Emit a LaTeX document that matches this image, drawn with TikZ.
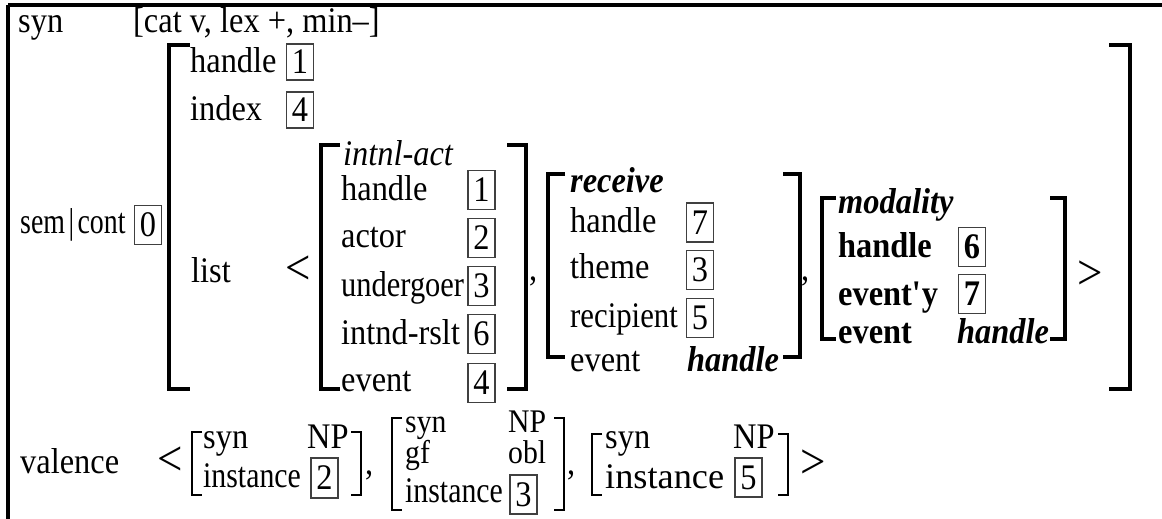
\documentclass[tikz,border=0pt]{standalone}
\usepackage{fontspec}
\setmainfont{Liberation Serif}[FakeStretch=0.9]
\newcommand{\fs}{\fontsize{36}{42}\selectfont}
\newcommand{\fssm}{\fontsize{33}{38}\selectfont}
\newcommand{\fsbig}{\fontsize{50}{54}\selectfont}
\tikzset{
  lbl/.style={anchor=base west, inner sep=0pt, font=\fs},
  tagbox/.style={draw=black!75, line width=1.1pt, minimum width=27pt, minimum height=39pt, inner sep=0pt, font=\fs},
  angle/.style={inner sep=0pt, font=\fsbig},
  brk/.style={line width=4.5pt, line join=miter},
  sbrk/.style={line width=1.8pt, line join=miter},
  frame/.style={line width=3.2pt},
}
\begin{document}
\begin{tikzpicture}[x=1pt, y=-1pt]
\useasboundingbox (0,0) rectangle (1162,519);
% frame
\draw[frame] (8,5) -- (1162,5);
\draw[frame] (8,5) -- (8,519);
% syn row
\node[lbl] (syn) at (18,33) {syn};
\node[lbl] (synv) at (133,33) {[cat v, lex +, min–]};
% sem|cont
\node[lbl] (semcont) at (20,233) {\scalebox{0.86}[1]{sem\kern4pt|\kern4pt cont}};
\node[tagbox] (t0) at (148,225) {0};
% big bracket
\draw[brk] (190,45) -- (169,45) -- (169,389) -- (190,389);
\draw[brk] (1109,45) -- (1130,45) -- (1130,389) -- (1109,389);
\node[lbl] (hdl) at (190,73) {handle};
\node[tagbox, minimum height=36pt] (ta1) at (300,62) {1};
\node[lbl] (idx) at (190,120) {index};
\node[tagbox, minimum height=36pt] (ta4) at (300,110) {4};
\node[lbl] (lst) at (191,282) {list};
\node[angle] (lt1) at (298,270) {<};
% intnl-act
\draw[brk] (340,145) -- (321,145) -- (321,389) -- (340,389);
\draw[brk] (507,145) -- (526,145) -- (526,389) -- (507,389);
\node[lbl] (ia) at (343,165) {\itshape intnl-act};
\node[lbl] (iah) at (341,200) {handle};
\node[lbl] (iaa) at (341,247) {actor};
\node[lbl] (iau) at (341,296) {\scalebox{0.94}[1]{undergoer}};
\node[lbl] (iai) at (341,344) {intnd-rslt};
\node[lbl] (iae) at (341,391) {event};
\node[tagbox] (tb1) at (481.5,190) {1};
\node[tagbox] (tb2) at (481.5,238) {2};
\node[tagbox] (tb3) at (481.5,286) {3};
\node[tagbox] (tb6) at (481.5,334) {6};
\node[tagbox] (tb4) at (481.5,383) {4};
\node[lbl] (c1) at (529,280) {,};
% receive
\draw[brk] (565,174) -- (548,174) -- (548,357) -- (565,357);
\draw[brk] (783,174) -- (800,174) -- (800,357) -- (783,357);
\node[lbl] (rc) at (570,192) {\bfseries\itshape receive};
\node[lbl] (rch) at (570,232) {handle};
\node[lbl] (rct) at (570,278) {theme};
\node[lbl] (rcr) at (570,327) {\scalebox{0.95}[1]{recipient}};
\node[lbl] (rce) at (570,371) {event};
\node[lbl] (rcev) at (687,371) {\bfseries\itshape handle};
\node[tagbox] (tc7) at (700,222.5) {7};
\node[tagbox] (tc3) at (700,270) {3};
\node[tagbox] (tc5) at (700,318) {5};
\node[lbl] (c2) at (801,280) {,};
% modality
\draw[brk] (836,198) -- (822,198) -- (822,339) -- (836,339);
\draw[brk] (1050,198) -- (1065,198) -- (1065,339) -- (1050,339);
\node[lbl] (md) at (838,213) {\bfseries\itshape modality};
\node[lbl] (mdh) at (838,257) {\bfseries handle};
\node[lbl] (mdy) at (838,305) {\bfseries event\textquotesingle y};
\node[lbl] (mde) at (838,343) {\bfseries event};
\node[lbl] (mdev) at (957,343) {\bfseries\itshape handle};
\node[tagbox, font=\fs\bfseries] (td6) at (972,247) {6};
\node[tagbox, font=\fs\bfseries] (td7) at (972,294) {7};
\node[angle] (gt1) at (1090,275) {>};
% valence
\node[lbl] (val) at (20,473) {valence};
\node[angle] (lt2) at (170,461) {<};
\draw[sbrk] (202,432) -- (192,432) -- (192,495) -- (202,495);
\draw[sbrk] (351,432) -- (361,432) -- (361,495) -- (351,495);
\node[lbl] (v1s) at (203,448) {syn};
\node[lbl] (v1n) at (307,448) {NP};
\node[lbl] (v1i) at (203,487) {\scalebox{0.92}[1]{instance}};
\node[tagbox, minimum height=40pt] (tv2) at (324.5,478) {2};
\node[lbl] (c3) at (365,474) {,};
\draw[sbrk] (402,418) -- (392,418) -- (392,510) -- (402,510);
\draw[sbrk] (554,418) -- (564,418) -- (564,510) -- (554,510);
\node[lbl, font=\fssm] (v2s) at (405,432) {syn};
\node[lbl, font=\fssm] (v2n) at (508,432) {NP};
\node[lbl, font=\fssm] (v2g) at (405,463) {gf};
\node[lbl, font=\fssm] (v2o) at (508,463) {obl};
\node[lbl] (v2i) at (405,502) {\scalebox{0.92}[1]{instance}};
\node[tagbox] (tv3) at (523.5,494.5) {3};
\node[lbl] (c4) at (567,474) {,};
\draw[sbrk] (602,434) -- (592,434) -- (592,495) -- (602,495);
\draw[sbrk] (778,434) -- (788,434) -- (788,495) -- (778,495);
\node[lbl] (v3s) at (605,448) {syn};
\node[lbl] (v3n) at (733,448) {NP};
\node[lbl] (v3i) at (605,488) {\scalebox{1.12}[1]{instance}};
\node[tagbox] (tv5) at (748.5,477.5) {5};
\node[angle] (gt2) at (813,464) {>};
\end{tikzpicture}
\end{document}
